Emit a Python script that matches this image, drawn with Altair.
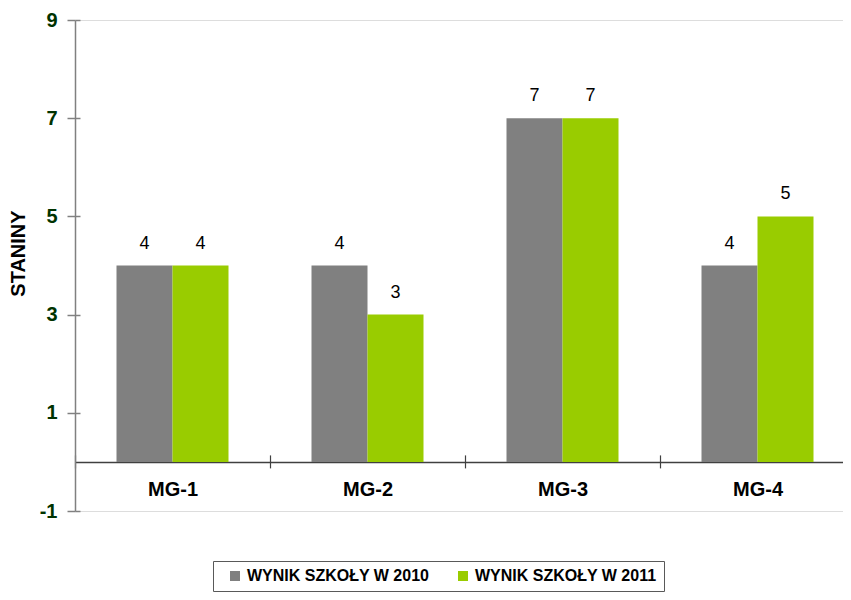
import altair as alt
import pandas as pd

categories = ["MG-1", "MG-2", "MG-3", "MG-4"]
series = ["WYNIK SZKOŁY W 2010", "WYNIK SZKOŁY W 2011"]
values_2010 = [4, 4, 7, 4]
values_2011 = [4, 3, 7, 5]
y_ticks = [-1, 1, 3, 5, 7, 9]
colors = ["#808080", "#99CC00"]

rows = []
for c, a, b in zip(categories, values_2010, values_2011):
    rows.append({"cat": c, "series": series[0], "value": a})
    rows.append({"cat": c, "series": series[1], "value": b})
df = pd.DataFrame(rows)

FONT = "Liberation Sans"
W, H = 768, 491
y_scale = alt.Scale(domain=[-1, 9], nice=False, zero=False)
x_scale = alt.Scale(range=[0, 780], paddingInner=0, paddingOuter=0)
xo_scale = alt.Scale(paddingInner=0, paddingOuter=0.741)

base = alt.Chart(df)

bars = base.mark_bar().encode(
    x=alt.X("cat:N", sort=categories, scale=x_scale, title=None,
            axis=alt.Axis(orient="bottom", offset=-49.1, tickBand="extent",
                          domainColor="#404040", domainWidth=1.5,
                          tickColor="#404040", tickWidth=1.2, tickSize=6,
                          labelFont=FONT, labelFontSize=20, labelFontWeight="bold",
                          labelColor="#000000", labelPadding=12, labelAngle=0)),
    xOffset=alt.XOffset("series:N", sort=series, scale=xo_scale),
    y=alt.Y("value:Q", scale=y_scale, title="STANINY",
            axis=alt.Axis(orient="left", values=y_ticks, grid=False,
                          labelExpr="'' + datum.value",
                          domainColor="#808080", domainWidth=1.5,
                          tickColor="#808080", tickWidth=1.5, tickSize=8,
                          labelFont=FONT, labelFontSize=20, labelFontWeight="bold",
                          labelColor="#003300", labelPadding=10,
                          titleFont=FONT, titleFontSize=20, titleFontWeight="bold",
                          titleColor="#000000", titleX=-57, titleY=233,
                          titleBaseline="middle", titleAlign="center")),
    color=alt.Color("series:N", sort=series,
                    scale=alt.Scale(domain=series, range=colors),
                    legend=alt.Legend(orient="none", legendX=138, legendY=541,
                                      direction="horizontal", title=None,
                                      symbolType="square", symbolSize=100,
                                      symbolStrokeWidth=0, symbolOffset=7,
                                      labelFont=FONT, labelFontSize=16,
                                      labelFontWeight="bold", labelColor="#000000",
                                      labelLimit=400,
                                      columnPadding=18, padding=7,
                                      strokeColor="#595959")),
)

labels = base.mark_text(font=FONT, fontSize=18, color="#000000",
                        baseline="alphabetic", dy=-17).encode(
    x=alt.X("cat:N", sort=categories, scale=x_scale, title=None,
            axis=alt.Axis(orient="top", offset=-441.9, tickBand="extent",
                          labels=False, domain=False,
                          tickColor="#404040", tickWidth=1.2, tickSize=7)),
    xOffset=alt.XOffset("series:N", sort=series, scale=xo_scale),
    y=alt.Y("value:Q", scale=y_scale, title=None,
            axis=alt.Axis(orient="right", offset=-W, values=y_ticks, grid=False,
                          labels=False, domain=False,
                          tickColor="#808080", tickWidth=1.5, tickSize=5)),
    text=alt.Text("value:Q"),
)

chart = alt.layer(bars, labels).resolve_axis(
    x="independent", y="independent"
).properties(
    width=W, height=H,
    autosize=alt.AutoSizeParams(type="none"),
    padding={"left": 67, "top": 12, "right": 0, "bottom": 81},
).configure_view(stroke=None).configure(background="white")

chart.save("out.html", embed_options={"renderer": "svg", "actions": False})
